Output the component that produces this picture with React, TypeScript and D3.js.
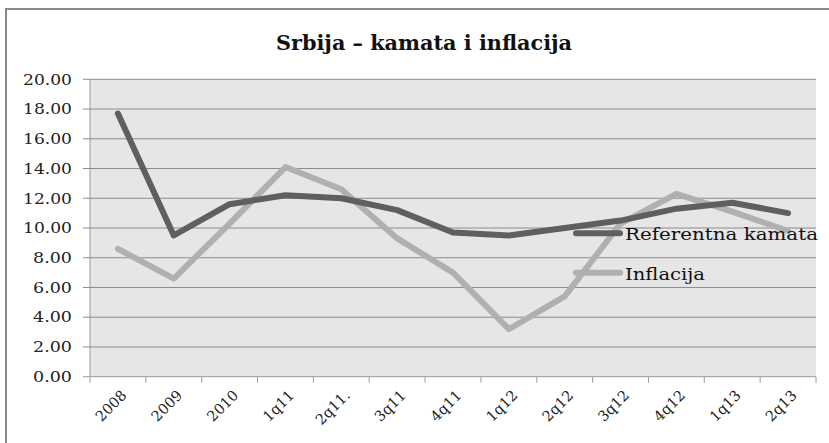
import { useRef, useEffect } from "react";
import * as d3 from "d3";

const categories = ["2008", "2009", "2010", "1q11", "2q11.", "3q11", "4q11", "1q12", "2q12", "3q12", "4q12", "1q13", "2q13"];
const kamata = [17.7, 9.5, 11.6, 12.2, 12.0, 11.2, 9.7, 9.5, 10.0, 10.5, 11.3, 11.7, 11.0];
const inflacija = [8.6, 6.6, 10.3, 14.1, 12.6, 9.3, 7.0, 3.2, 5.4, 10.3, 12.3, 11.1, 9.8];
const yTicks = [0, 2, 4, 6, 8, 10, 12, 14, 16, 18, 20];

const series = [
  { name: "Referentna kamata", values: kamata, color: "#5f5f5f", labelWidth: 193 },
  { name: "Inflacija", values: inflacija, color: "#b0b0b0", labelWidth: 80 },
];

const W = 829;
const H = 443;
const FONT = "'DejaVu Serif', 'Liberation Serif', serif";

export default function App() {
  const svgRef = useRef<SVGSVGElement | null>(null);

  useEffect(() => {
    const svg = d3.select(svgRef.current);
    svg.selectAll("*").remove();

    const left = 90;
    const right = 816;
    const top = 79.3;
    const bottom = 376.7;

    // outer frame (runs off the right/bottom edge like the original)
    svg.append("rect")
      .attr("x", 6).attr("y", 9)
      .attr("width", W + 10).attr("height", H + 10)
      .attr("fill", "#fff").attr("stroke", "#8a8a8a").attr("stroke-width", 2);

    svg.append("text")
      .attr("x", 276).attr("y", 50)
      .attr("font-family", FONT).attr("font-weight", "bold")
      .attr("font-size", 20).attr("fill", "#111")
      .attr("textLength", 296).attr("lengthAdjust", "spacingAndGlyphs")
      .text("Srbija – kamata i inflacija");

    const x = d3.scaleBand().domain(categories).range([left, right]);
    const y = d3.scaleLinear().domain([0, 20]).range([bottom, top]);

    svg.append("rect")
      .attr("x", left).attr("y", top)
      .attr("width", right - left).attr("height", bottom - top)
      .attr("fill", "#e6e6e6");

    // gridlines + small left ticks
    svg.append("g")
      .selectAll("line")
      .data(yTicks)
      .join("line")
      .attr("x1", left - 7).attr("x2", right)
      .attr("y1", (d) => y(d)).attr("y2", (d) => y(d))
      .attr("stroke", (d) => (d === 0 ? "#9a9a9a" : "#8c8c8c"))
      .attr("stroke-width", 1);

    svg.append("line")
      .attr("x1", left).attr("x2", left)
      .attr("y1", top).attr("y2", bottom)
      .attr("stroke", "#9a9a9a");

    svg.append("g")
      .selectAll("text")
      .data(yTicks)
      .join("text")
      .attr("x", (d) => 72 - (d >= 10 ? 49 : 39))
      .attr("y", (d) => y(d))
      .attr("dy", "0.35em")
      .attr("font-family", FONT).attr("font-size", 15).attr("fill", "#222")
      .attr("textLength", (d) => (d >= 10 ? 49 : 39))
      .attr("lengthAdjust", "spacingAndGlyphs")
      .text((d) => d.toFixed(2));

    // x ticks at category edges
    const edges = categories.map((c) => x(c) as number).concat([right]);
    svg.append("g")
      .selectAll("line")
      .data(edges)
      .join("line")
      .attr("x1", (d) => d).attr("x2", (d) => d)
      .attr("y1", bottom).attr("y2", bottom + 6)
      .attr("stroke", "#9a9a9a");

    svg.append("g")
      .selectAll("text")
      .data(categories)
      .join("text")
      .attr("transform", (d) => {
        const cx = (x(d) as number) + x.bandwidth() / 2 + 6;
        return `translate(${cx},${bottom + 16}) rotate(-45)`;
      })
      .attr("text-anchor", "end")
      .attr("dy", "0.35em")
      .attr("font-family", FONT).attr("font-size", 14.5).attr("fill", "#222")
      .text((d) => d);

    const line = d3.line<number>()
      .x((_, i) => (x(categories[i]) as number) + x.bandwidth() / 2)
      .y((d) => y(d));

    // inflacija drawn first, kamata on top
    [series[1], series[0]].forEach((s) => {
      svg.append("path")
        .attr("d", line(s.values))
        .attr("fill", "none")
        .attr("stroke", s.color)
        .attr("stroke-width", 6)
        .attr("stroke-linejoin", "round")
        .attr("stroke-linecap", "round");
    });

    // legend
    const lg = svg.append("g");
    series.forEach((s, i) => {
      const ly = 233.3 + i * 39.4;
      lg.append("line")
        .attr("x1", 576).attr("x2", 620)
        .attr("y1", ly).attr("y2", ly)
        .attr("stroke", s.color).attr("stroke-width", 6)
        .attr("stroke-linecap", "round");
      lg.append("text")
        .attr("x", 625).attr("y", ly + 7)
        .attr("font-family", FONT).attr("font-size", 17.5).attr("fill", "#111")
        .attr("textLength", s.labelWidth).attr("lengthAdjust", "spacingAndGlyphs")
        .text(s.name);
    });
  }, []);

  return (
    <div style={{ position: "absolute", left: 0, top: 0, width: W, height: H, overflow: "hidden" }}>
      <svg ref={svgRef} width={W} height={H} style={{ display: "block" }} />
    </div>
  );
}
